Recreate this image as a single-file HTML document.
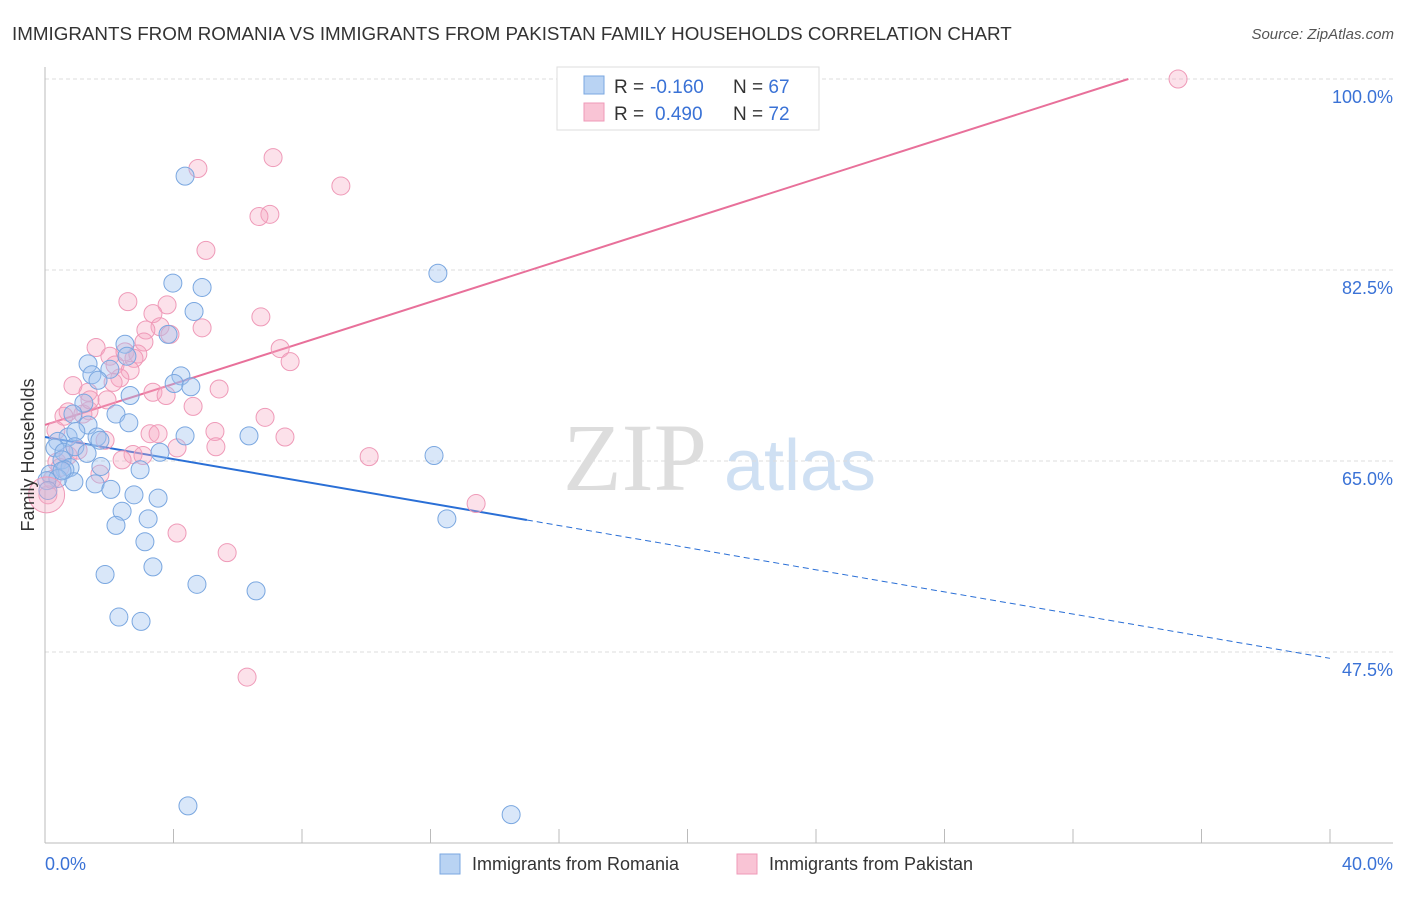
<!DOCTYPE html>
<html><head><meta charset="utf-8"><style>
body{margin:0;background:#fff;font-family:"Liberation Sans",sans-serif;}
</style></head><body>
<svg id="chart" width="1406" height="892" xmlns="http://www.w3.org/2000/svg" font-family="Liberation Sans, sans-serif">
<text x="12" y="40" font-size="18.8" fill="#333">IMMIGRANTS FROM ROMANIA VS IMMIGRANTS FROM PAKISTAN FAMILY HOUSEHOLDS CORRELATION CHART</text>
<text x="1394" y="39" font-size="15" fill="#555" text-anchor="end" font-style="italic">Source: ZipAtlas.com</text>
<g>
<text x="635" y="490" font-size="96" fill="#ddd" font-family="Liberation Serif, serif" text-anchor="middle">ZIP</text>
<text x="800" y="490" font-size="72" fill="#cfe0f3" text-anchor="middle">atlas</text>
</g>
<g id="grid"></g>
<g id="axes"></g>
<g id="lines"></g>
<g id="pts"></g>
<text transform="translate(34,455) rotate(-90)" font-size="18" fill="#333" text-anchor="middle">Family Households</text>
<g>
<rect x="557" y="67" width="262" height="63" fill="#fff" stroke="#ddd"/>
<rect x="584" y="76" width="20" height="18" fill="#b9d3f3" stroke="#7aa7e0"/>
<rect x="584" y="103" width="20" height="18" fill="#f9c4d5" stroke="#ef9ab8"/>
<text x="614" y="93" font-size="19" fill="#333">R =</text>
<text x="650" y="93" font-size="19" fill="#3a72d6">-0.160</text>
<text x="733" y="93" font-size="19" fill="#333">N = <tspan fill="#3a72d6">67</tspan></text>
<text x="614" y="120" font-size="19" fill="#333">R =</text>
<text x="655" y="120" font-size="19" fill="#3a72d6">0.490</text>
<text x="733" y="120" font-size="19" fill="#333">N = <tspan fill="#3a72d6">72</tspan></text>
</g>
<g>
<rect x="440" y="854" width="20" height="20" fill="#b9d3f3" stroke="#7aa7e0"/>
<text x="472" y="870" font-size="18" fill="#333">Immigrants from Romania</text>
<rect x="737" y="854" width="20" height="20" fill="#f9c4d5" stroke="#ef9ab8"/>
<text x="769" y="870" font-size="18" fill="#333">Immigrants from Pakistan</text>
</g>
</svg>
<script>
const yTicks=[100,82.5,65,47.5];
const yTickLabels=["100.0%","82.5%","65.0%","47.5%"];
const xTicks=[0,4,8,12,16,20,24,28,32,36,40];
const romaniaX=[4.36,12.23,3.98,4.89,4.64,2.49,3.83,1.34,2.55,2.02,1.46,1.65,4.23,4.02,4.54,2.65,1.21,2.21,2.61,0.87,0.72,1.34,0.96,1.62,0.40,1.71,4.36,6.35,12.11,3.58,0.31,0.59,0.93,1.31,0.53,0.78,1.74,0.62,0.16,0.40,0.06,0.90,1.56,2.05,2.77,3.52,2.40,2.21,3.21,3.11,12.51,3.36,1.87,4.73,6.57,2.30,2.99,4.45,14.51,2.96,0.09,0.53];
const romaniaY=[91.1,82.2,81.3,80.9,78.7,75.7,76.6,73.9,74.6,73.4,72.9,72.4,72.8,72.1,71.8,71.0,70.3,69.3,68.5,69.3,67.2,68.3,67.7,67.2,66.8,66.9,67.3,67.3,65.5,65.8,66.2,65.8,66.3,65.7,65.1,64.4,64.5,64.2,63.8,63.4,63.2,63.1,62.9,62.4,61.9,61.6,60.4,59.1,59.7,57.6,59.7,55.3,54.6,53.7,53.1,50.7,50.3,33.4,32.6,64.2,62.3,64.1];
const pakistanX=[16.37,35.27,4.76,7.10,9.21,7.00,6.66,5.01,2.58,3.80,3.36,6.72,4.89,3.58,3.14,3.89,1.59,3.08,7.32,2.02,2.49,2.89,2.77,7.63,2.18,2.65,2.33,0.87,1.34,3.36,5.42,3.77,1.93,4.61,0.72,0.59,1.37,1.18,6.85,3.27,3.52,5.29,7.47,1.87,4.11,5.32,2.74,3.05,2.40,10.09,0.37,0.72,1.03,1.71,13.42,4.11,5.67,6.29,0.09,0.22,0.47,0.34,1.40,2.12];
const pakistanY=[100,100,91.8,92.8,90.2,87.6,87.4,84.3,79.6,79.3,78.5,78.2,77.2,77.3,77.0,76.6,75.4,75.9,75.3,74.6,75.0,74.8,74.4,74.1,73.8,73.3,72.6,71.9,71.3,71.3,71.6,71.0,70.6,70.0,69.5,69.1,69.6,69.3,69.0,67.5,67.5,67.7,67.2,66.9,66.2,66.3,65.6,65.5,65.1,65.4,64.9,65.5,66.0,63.8,61.1,58.4,56.6,45.2,61.9,63.3,64.4,67.8,70.6,72.2];
const romaniaFit=[67.2,-0.507];
const pakistanFit=[68.3,0.94];
const NS="http://www.w3.org/2000/svg";
function sx(v){return 45+v*32.125;}
function sy(v){return 79+(100-v)*10.914;}
function mk(tag,attrs,parent){const e=document.createElementNS(NS,tag);for(const k in attrs)e.setAttribute(k,attrs[k]);document.getElementById(parent).appendChild(e);return e;}
yTicks.forEach((t,i)=>{
 const g=mk('line',{x1:45,x2:1393,y1:sy(t),y2:sy(t),stroke:'#ddd','stroke-dasharray':'4,3'},'grid');
 
 
 const l=mk('text',{x:1393,y:sy(t)+24,'font-size':18,fill:'#3a72d6','text-anchor':'end'},'grid');
 l.textContent=yTickLabels[i];
 
 
});
const ya=mk('line',{x1:45,x2:45,y1:67,y2:843,stroke:'#bbb'},'axes');


const xa=mk('line',{x1:45,x2:1393,y1:843,y2:843,stroke:'#bbb'},'axes');


xTicks.forEach(t=>{
 const k=mk('line',{x1:sx(t),x2:sx(t),y1:829,y2:843,stroke:'#bbb'},'axes');
 
 
});
const x0=mk('text',{x:45,y:870,'font-size':18,fill:'#3a72d6'},'axes');x0.textContent='0.0%';


const x1=mk('text',{x:1393,y:870,'font-size':18,fill:'#3a72d6','text-anchor':'end'},'axes');x1.textContent='40.0%';


function drawPts(xs,ys,fill,stroke,name){xs.forEach((x,i)=>{
 const c=mk('circle',{cx:sx(x),cy:sy(ys[i]),r:9,fill:fill,stroke:stroke,'stroke-width':1},'pts');
 
 
});}
drawPts(pakistanX,pakistanY,'rgba(245,170,195,0.35)','#ef9ab8','pakistan-point');
drawPts(romaniaX,romaniaY,'rgba(160,196,240,0.4)','#7aa7e0','romania-point');
const big=mk('circle',{cx:sx(0.05),cy:sy(61.9),r:18,fill:'rgba(245,170,195,0.35)',stroke:'#ef9ab8'},'pts');


const f=(fit,x)=>fit[0]+fit[1]*x;
const b1=mk('line',{x1:sx(0),y1:sy(f(romaniaFit,0)),x2:sx(15),y2:sy(f(romaniaFit,15)),stroke:'#2a6fd6','stroke-width':2},'lines');


const b2=mk('line',{x1:sx(15),y1:sy(f(romaniaFit,15)),x2:sx(40),y2:sy(f(romaniaFit,40)),stroke:'#2a6fd6','stroke-width':1,'stroke-dasharray':'6,4'},'lines');


const xe=(100-pakistanFit[0])/pakistanFit[1];
const p1=mk('line',{x1:sx(0),y1:sy(f(pakistanFit,0)),x2:sx(xe),y2:sy(100),stroke:'#e8709a','stroke-width':2},'lines');


</script>
</body></html>
